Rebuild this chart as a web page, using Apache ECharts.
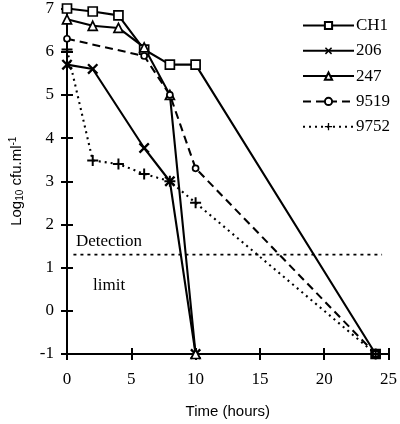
<!DOCTYPE html>
<html><head><meta charset="utf-8">
<script src="https://cdn.jsdelivr.net/npm/echarts@6/dist/echarts.min.js"></script>
<style>html,body{margin:0;padding:0;background:#fff}#c{width:400px;height:424px}</style>
</head><body><div id="c"></div>
<script>
const seriesNames = ['CH1','206','247','9519','9752'];
const timesCH1 = [0,2,4,6,8,10,24];
const valsCH1  = [7.0,6.93,6.84,6.05,5.7,5.7,-1];
const times206 = [0,2,6,8,10];
const vals206  = [5.7,5.6,3.77,3.0,-1];
const times247 = [0,2,4,6,8,10];
const vals247  = [6.75,6.6,6.55,6.1,5.0,-1];
const times9519 = [0,6,8,10,24];
const vals9519  = [6.3,5.9,5.0,3.3,-1];
const times9752 = [0,2,4,6,8,10,24];
const vals9752  = [6.05,3.48,3.4,3.17,3.0,2.5,-1];
const detectionLimit = 1.3;
const detectionRange = [0.5,24.5];
const xTicks = [0,5,10,15,20,25];
const yTicks = [-1,0,1,2,3,4,5,6,7];

const serif = '"Liberation Serif", "Times New Roman", serif';
const sans = '"Liberation Sans", Arial, sans-serif';
const pairs = (t,v) => t.map((x,i)=>[x,v[i]]);

const xPath = 'path://M0,1.5L1.5,0L10,8.5L8.5,10Z M8.5,0L10,1.5L1.5,10L0,8.5Z';
const plusPath = 'path://M4.1,0H5.9V10H4.1Z M0,4.1H10V5.9H0Z';

function mk(name, data, symbol, size, lineType, hollow){
  return {
    name, type:'line', data, symbol, symbolSize:size, clip:false,
    showAllSymbol:true, z: 3,
    lineStyle:{color:'#000', width:2.1, type:lineType},
    itemStyle: hollow ? {color:'#fff', borderColor:'#000', borderWidth:1.7}
                      : {color:'#000', borderColor:'#000', borderWidth:0},
    emphasis:{disabled:true}, animation:false
  };
}

const ch1Data = pairs(timesCH1, valsCH1).map((p,i,a)=> i===a.length-1 ? {value:p, itemStyle:{color:'#000'}} : p);

const series = [
  mk('CH1', ch1Data, 'rect', 9, 'solid', true),
  mk('206', pairs(times206, vals206), xPath, 11, 'solid', false),
  mk('247', pairs(times247, vals247), 'triangle', 9, 'solid', true),
  mk('9519', pairs(times9519, vals9519), 'circle', 6, [8,5], true),
  mk('9752', pairs(times9752, vals9752), plusPath, 11, [2,4], false),
  {
    name:'detection', type:'line', data: detectionRange.map(x=>[x, detectionLimit]),
    symbol:'none', lineStyle:{color:'#000', width:1.6, type:[3,4]}, z:2,
    silent:true, animation:false
  }
];

const chart = echarts.init(document.getElementById('c'), null, {renderer:'canvas'});
chart.setOption({
  backgroundColor:'#fff',
  animation:false,
  grid:{left:61, right:10, top:5, bottom:67, containLabel:false},
  legend:{
    data: seriesNames, orient:'vertical', left:297, top:12,
    itemWidth:51, itemHeight:9, itemGap:8.3,
    textStyle:{fontFamily:serif, fontSize:17, color:'#000', padding:[0,0,0,-3]},
    selectedMode:false
  },
  xAxis:[{
    type:'value', min:0, max:25, interval:5,
    axisLine:{onZero:false, lineStyle:{color:'#000', width:2}},
    axisTick:{length:6, lineStyle:{color:'#000', width:2}},
    axisLabel:{fontFamily:serif, fontSize:17, color:'#000', margin:17},
    splitLine:{show:false},
    name:'Time (hours)', nameLocation:'middle', nameGap:50,
    nameTextStyle:{fontFamily:sans, fontSize:15, color:'#000'}
  },{
    type:'value', min:0, max:25, interval:5, position:'bottom',
    axisLine:{show:false, onZero:false}, axisLabel:{show:false}, splitLine:{show:false},
    axisTick:{inside:true, length:6, lineStyle:{color:'#000', width:2}}
  }],
  yAxis:[{
    type:'value', min:-1, max:7, interval:1,
    axisLine:{onZero:false, lineStyle:{color:'#000', width:2}},
    axisTick:{length:6, lineStyle:{color:'#000', width:2}},
    axisLabel:{fontFamily:serif, fontSize:17, color:'#000', margin:13},
    splitLine:{show:false},
    name:'Log{sub|10} cfu.ml{sup|-1}', nameLocation:'middle', nameGap:42, nameRotate:90,
    nameTextStyle:{fontFamily:sans, fontSize:15, color:'#000',
      rich:{sub:{fontFamily:sans, fontSize:10, color:'#000', verticalAlign:'bottom', padding:[7,0,0,0]},
            sup:{fontFamily:sans, fontSize:10, color:'#000', verticalAlign:'top', padding:[0,0,7,0]}}}
  },{
    type:'value', min:-1, max:7, interval:1, position:'left',
    axisLine:{show:false, onZero:false}, axisLabel:{show:false}, splitLine:{show:false},
    axisTick:{inside:true, length:6, lineStyle:{color:'#000', width:2}}
  }],
  graphic:[
    {type:'text', left:76, top:233, style:{text:'Detection', font:'17px ' + serif, fill:'#000'}},
    {type:'text', left:93, top:277, style:{text:'limit', font:'17px ' + serif, fill:'#000'}}
  ],
  series
});
</script></body></html>
